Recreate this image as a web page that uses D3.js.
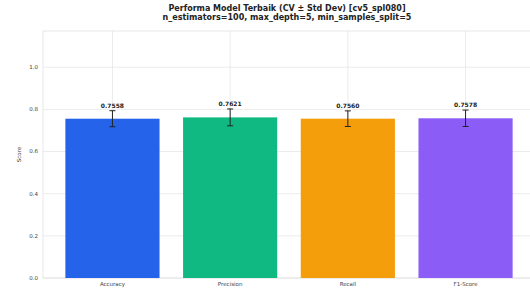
<!DOCTYPE html>
<html>
<head>
<meta charset="utf-8">
<script src="https://cdn.jsdelivr.net/npm/d3@7"></script>
<style>
  body { margin: 0; background: #fff; }
  svg { display: block; font-family: "DejaVu Sans", sans-serif; }
</style>
</head>
<body>
<svg id="chart"></svg>
<script>
const metrics = ["Accuracy", "Precision", "Recall", "F1-Score"];
const means = [0.7558, 0.7621, 0.7560, 0.7578];
const stds = [0.038, 0.040, 0.037, 0.039];
const colors = ["#2563eb", "#10b981", "#f59e0b", "#8b5cf6"];
const yTicks = [0.0, 0.2, 0.4, 0.6, 0.8, 1.0];
const titleLines = [
  "Performa Model Terbaik (CV \u00b1 Std Dev) [cv5_spl080]",
  "n_estimators=100, max_depth=5, min_samples_split=5"
];

const WIDTH = 530, HEIGHT = 289;
const margin = { top: 31, right: -5, bottom: 11, left: 43 };

const svg = d3.select("#chart").attr("width", WIDTH).attr("height", HEIGHT);

const x = d3.scaleLinear()
  .domain([-0.59, metrics.length - 1 + 0.59])
  .range([margin.left, WIDTH - margin.right]);

const y = d3.scaleLinear()
  .domain([0, 1.172])
  .range([HEIGHT - margin.bottom, margin.top]);

const barW = x(0.8) - x(0);

// grid
const grid = svg.append("g");
grid.selectAll("line.h")
  .data(yTicks)
  .join("line")
  .attr("x1", x.range()[0]).attr("x2", x.range()[1])
  .attr("y1", d => y(d)).attr("y2", d => y(d))
  .attr("stroke", "#e6e6e6").attr("stroke-width", 0.8);
grid.selectAll("line.v")
  .data(metrics)
  .join("line")
  .attr("x1", (d, i) => x(i)).attr("x2", (d, i) => x(i))
  .attr("y1", y.range()[0]).attr("y2", y.range()[1])
  .attr("stroke", "#e6e6e6").attr("stroke-width", 0.8);

// frame
svg.append("rect")
  .attr("x", x.range()[0]).attr("y", y.range()[1])
  .attr("width", x.range()[1] - x.range()[0])
  .attr("height", y.range()[0] - y.range()[1])
  .attr("fill", "none").attr("stroke", "#e0e0e0").attr("stroke-width", 0.8);

// bars
svg.append("g").selectAll("rect")
  .data(means)
  .join("rect")
  .attr("x", (d, i) => x(i) - barW / 2)
  .attr("y", d => y(d))
  .attr("width", barW)
  .attr("height", d => y(0) - y(d))
  .attr("fill", (d, i) => colors[i]);

// error bars
const err = svg.append("g").attr("stroke", "#222").attr("stroke-width", 1);
means.forEach((m, i) => {
  const cx = x(i);
  err.append("line").attr("x1", cx).attr("x2", cx)
    .attr("y1", y(m - stds[i])).attr("y2", y(m + stds[i]));
  [m - stds[i], m + stds[i]].forEach(v => {
    err.append("line").attr("x1", cx - 3).attr("x2", cx + 3)
      .attr("y1", y(v)).attr("y2", y(v));
  });
});

// value labels
svg.append("g").selectAll("text")
  .data(means)
  .join("text")
  .attr("x", (d, i) => x(i))
  .attr("y", (d, i) => y(d + stds[i]) - 3)
  .attr("text-anchor", "middle")
  .attr("font-size", 6)
  .attr("font-weight", 600)
  .attr("fill", "#222")
  .text(d => d.toFixed(4));

// y tick labels
svg.append("g").selectAll("text")
  .data(yTicks)
  .join("text")
  .attr("x", margin.left - 5)
  .attr("y", d => y(d))
  .attr("dy", "0.35em")
  .attr("text-anchor", "end")
  .attr("font-size", 5.5)
  .attr("fill", "#444")
  .text(d => d.toFixed(1));

// x tick labels
svg.append("g").selectAll("text")
  .data(metrics)
  .join("text")
  .attr("x", (d, i) => x(i))
  .attr("y", y(0) + 8)
  .attr("text-anchor", "middle")
  .attr("font-size", 5.5)
  .attr("fill", "#444")
  .text(d => d);

// y label
svg.append("text")
  .attr("transform", `translate(21, ${(y.range()[0] + y.range()[1]) / 2}) rotate(-90)`)
  .attr("text-anchor", "middle")
  .attr("font-size", 5.5)
  .attr("fill", "#444")
  .text("Score");

// title
svg.append("g").selectAll("text")
  .data(titleLines)
  .join("text")
  .attr("x", 287)
  .attr("y", (d, i) => 10.5 + i * 9.5)
  .attr("text-anchor", "middle")
  .attr("font-size", 8)
  .attr("font-weight", "bold")
  .attr("fill", "#222")
  .text(d => d);
</script>
</body>
</html>
